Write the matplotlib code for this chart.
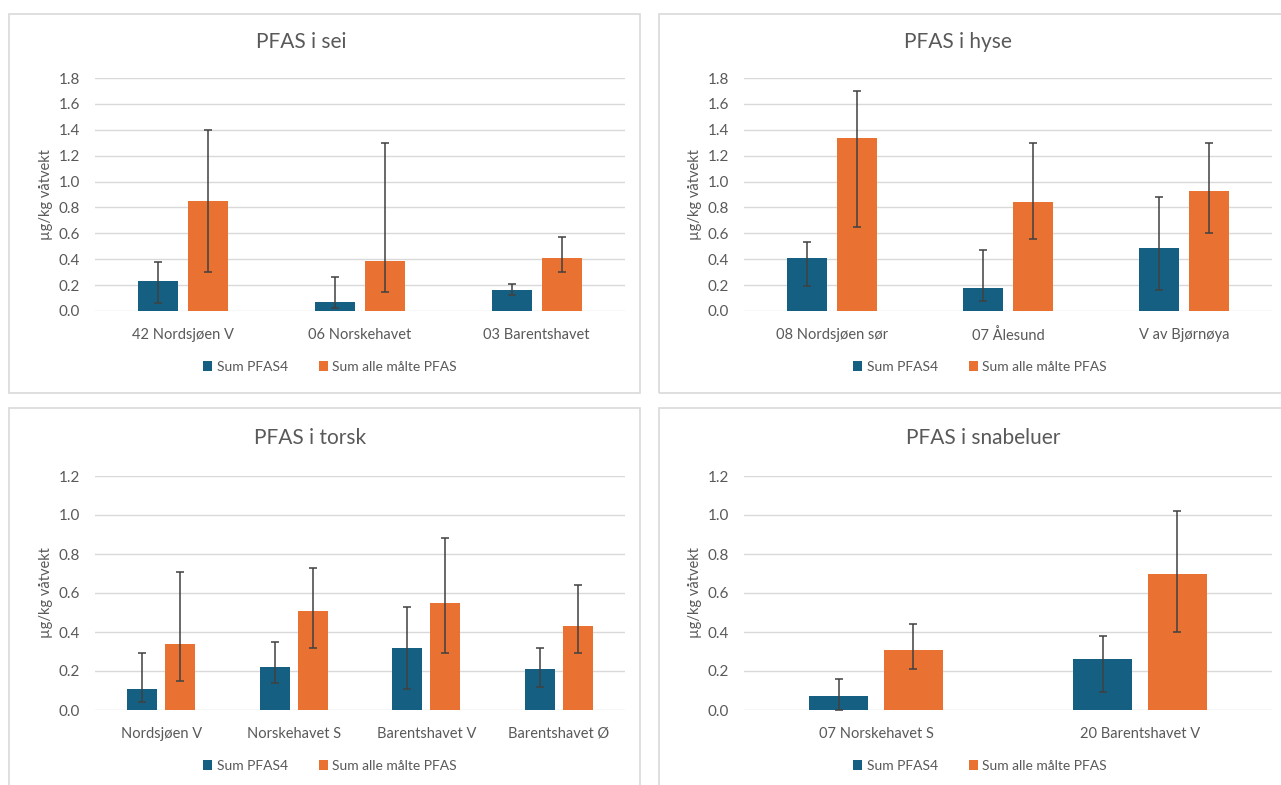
import numpy as np
import matplotlib.pyplot as plt
from matplotlib.patches import Rectangle

plt.rcParams['font.family'] = ['Lato', 'DejaVu Sans']

# PFAS i sei
sei_sites = ["42 Nordsjøen V", "06 Norskehavet", "03 Barentshavet"]
sei_pfas4 = [0.23, 0.07, 0.16]
sei_pfas4_lo = [0.06, 0.02, 0.12]
sei_pfas4_hi = [0.38, 0.26, 0.21]
sei_alle = [0.85, 0.39, 0.41]
sei_alle_lo = [0.30, 0.15, 0.30]
sei_alle_hi = [1.40, 1.30, 0.57]

# PFAS i hyse
hyse_sites = ["08 Nordsjøen sør", "07 Ålesund", "V av Bjørnøya"]
hyse_pfas4 = [0.41, 0.18, 0.49]
hyse_pfas4_lo = [0.19, 0.08, 0.16]
hyse_pfas4_hi = [0.53, 0.47, 0.88]
hyse_alle = [1.34, 0.84, 0.93]
hyse_alle_lo = [0.65, 0.56, 0.60]
hyse_alle_hi = [1.70, 1.30, 1.30]

# PFAS i torsk
torsk_sites = ["Nordsjøen V", "Norskehavet S", "Barentshavet V", "Barentshavet Ø"]
torsk_pfas4 = [0.11, 0.22, 0.32, 0.21]
torsk_pfas4_lo = [0.04, 0.14, 0.11, 0.12]
torsk_pfas4_hi = [0.29, 0.35, 0.53, 0.32]
torsk_alle = [0.34, 0.51, 0.55, 0.43]
torsk_alle_lo = [0.15, 0.32, 0.29, 0.29]
torsk_alle_hi = [0.71, 0.73, 0.88, 0.64]

# PFAS i snabeluer
snab_sites = ["07 Norskehavet S", "20 Barentshavet V"]
snab_pfas4 = [0.07, 0.26]
snab_pfas4_lo = [0.00, 0.09]
snab_pfas4_hi = [0.16, 0.38]
snab_alle = [0.31, 0.70]
snab_alle_lo = [0.21, 0.40]
snab_alle_hi = [0.44, 1.02]

BLUE = "#156082"
ORANGE = "#E97132"
GREY = "#595959"
GRID = "#d9d9d9"

W, H = 1281, 785
fig = plt.figure(figsize=(W / 100, H / 100), dpi=100)


def px_box(x0, y0, x1, y1):
    return [x0 / W, 1 - y1 / H, (x1 - x0) / W, (y1 - y0) / H]


def panel(frame, axbox, title, title_xy, sites, p4, p4lo, p4hi, al, allo, alhi, ymax, leg_xy):
    fx0, fy0, fx1, fy1 = frame
    fig.patches.append(Rectangle((fx0 / W, 1 - fy1 / H), (fx1 - fx0) / W, (fy1 - fy0) / H,
                                 transform=fig.transFigure, fill=False,
                                 edgecolor=GRID, lw=1.2))
    ax = fig.add_axes(px_box(*axbox))
    x = np.arange(len(sites))
    bw = 0.226
    off = 0.142
    p4 = np.array(p4); al = np.array(al)
    ax.bar(x - off, p4, bw, color=BLUE, label="Sum PFAS4", zorder=2)
    ax.bar(x + off, al, bw, color=ORANGE, label="Sum alle målte PFAS", zorder=2)
    ax.errorbar(x - off, p4, yerr=[p4 - np.array(p4lo), np.array(p4hi) - p4],
                fmt="none", ecolor="#404040", elinewidth=1.1, capsize=3, capthick=1.1, zorder=3)
    ax.errorbar(x + off, al, yerr=[al - np.array(allo), np.array(alhi) - al],
                fmt="none", ecolor="#404040", elinewidth=1.1, capsize=3, capthick=1.1, zorder=3)
    ax.set_xlim(-0.5, len(sites) - 0.5)
    ax.set_ylim(0, ymax)
    ax.set_yticks(np.arange(0, ymax + 0.01, 0.2))
    ax.yaxis.set_major_formatter(plt.FormatStrFormatter("%.1f"))
    ax.set_xticks(x)
    ax.set_xticklabels(sites)
    ax.grid(axis="y", color=GRID, lw=1, zorder=0)
    ax.set_axisbelow(True)
    for s in ax.spines.values():
        s.set_visible(False)
    ax.tick_params(length=0, colors=GREY, labelsize=10.5, pad=12)
    ax.tick_params(axis="y", labelsize=11, pad=11)
    ax.set_ylabel("µg/kg våtvekt", color=GREY, fontsize=10.5, labelpad=4)
    fig.text(title_xy[0] / W, 1 - title_xy[1] / H, title, ha="center", va="center",
             fontsize=15, color=GREY)
    fig.legend(*ax.get_legend_handles_labels(), loc="center", ncol=2,
               bbox_to_anchor=(leg_xy[0] / W, 1 - leg_xy[1] / H), frameon=False, fontsize=10,
               handlelength=0.65, handleheight=0.65, handletextpad=0.35, columnspacing=2.2,
               labelcolor=GREY)
    return ax


panel((9, 14, 640, 393), (95, 78, 625, 311), "PFAS i sei", (301, 42),
      sei_sites, sei_pfas4, sei_pfas4_lo, sei_pfas4_hi, sei_alle, sei_alle_lo, sei_alle_hi,
      1.8, (330, 367))
panel((659, 14, 1295, 393), (744, 78, 1272, 311), "PFAS i hyse", (958, 42),
      hyse_sites, hyse_pfas4, hyse_pfas4_lo, hyse_pfas4_hi, hyse_alle, hyse_alle_lo, hyse_alle_hi,
      1.8, (980, 367))
panel((9, 408, 640, 795), (95, 476, 625, 710), "PFAS i torsk", (310, 438),
      torsk_sites, torsk_pfas4, torsk_pfas4_lo, torsk_pfas4_hi, torsk_alle, torsk_alle_lo, torsk_alle_hi,
      1.2, (330, 766))
panel((659, 408, 1295, 795), (744, 476, 1272, 710), "PFAS i snabeluer", (983, 438),
      snab_sites, snab_pfas4, snab_pfas4_lo, snab_pfas4_hi, snab_alle, snab_alle_lo, snab_alle_hi,
      1.2, (980, 766))

fig.savefig("out.png", dpi=100, facecolor="white")
